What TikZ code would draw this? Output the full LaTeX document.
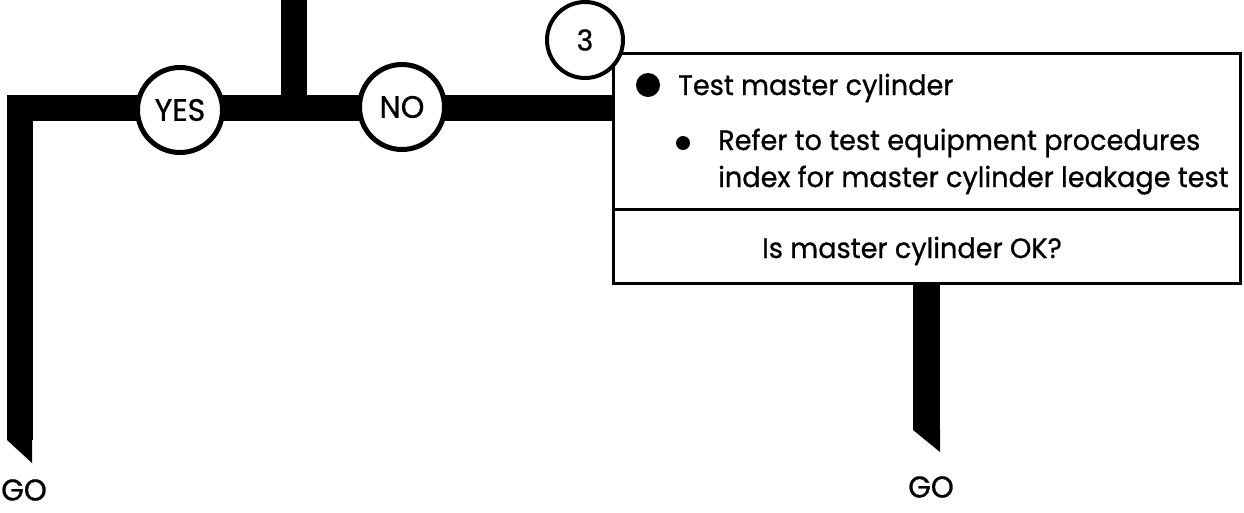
\documentclass[tikz,border=0pt]{standalone}
\usepackage{fontspec}
\setmainfont{Poppins}[FakeStretch=0.97, FakeBold=0.8]
\usetikzlibrary{positioning}

\tikzset{
  bar/.style={line width=26pt, line join=miter},
  choice/.style={circle, draw, line width=5pt, fill=white, minimum size=85pt,
    inner sep=0pt, font=\fontsize{31}{34}\selectfont},
  stepnum/.style={circle, draw, line width=4pt, fill=white, minimum size=76pt,
    inner sep=0pt, font=\fontsize{29}{32}\selectfont},
  panel/.style={rectangle, draw, line width=3pt, inner sep=0pt, outer sep=0pt,
    minimum width=627pt},
  txt/.style={anchor=base west, inner sep=0pt, font=\fontsize{28}{34}\selectfont},
  gotxt/.style={inner sep=0pt, font=\fontsize{30}{34}\selectfont},
}

\begin{document}
\begin{tikzpicture}[x=1pt, y=-1pt]
  \useasboundingbox (0,0) rectangle (1244,512);
  % step box
  \node[panel, minimum height=156pt] (task) at (926.5,131) {};
  \node[panel, minimum height=74pt, below=0pt of task] (ask) {};
  \node[stepnum] (three) at (585,40) {3};
  \fill (648,85) circle (12);
  \node[txt] (head) at (678,95) {Test master cylinder};
  \fill (683,143) circle (7);
  \node[txt] (refer1) at (718,150) {Refer to test equipment procedures};
  \node[txt] (refer2) at (718,187) {index for master cylinder leakage test};
  \node[txt, anchor=base] (question) at (912,258) {Is master cylinder OK?};
  % flow lines
  \coordinate (top) at (294,0);
  \coordinate (corner) at (19.5,108);
  \coordinate (leftend) at (19.5,440);
  \coordinate (rightend) at (926.5,430);
  \draw[bar] (leftend) -- (corner) -- (task.west |- corner);
  \draw[bar] (top) -- (top |- corner);
  \draw[line width=27pt] (ask.south) -- (rightend);
  \fill ([xshift=-12.5pt]leftend) -- ([xshift=12.5pt]leftend) -- ++(0,23) -- cycle;
  \fill ([xshift=-13.5pt]rightend) -- ([xshift=13.5pt]rightend) -- ++(0,22) -- cycle;
  \node[choice] (yes) at (180,110) {YES};
  \node[choice] (no) at (402,107) {NO};
  \node[gotxt] (goleft) at (24,490) {GO};
  \node[gotxt] (goright) at (931,487) {GO};
\end{tikzpicture}
\end{document}
